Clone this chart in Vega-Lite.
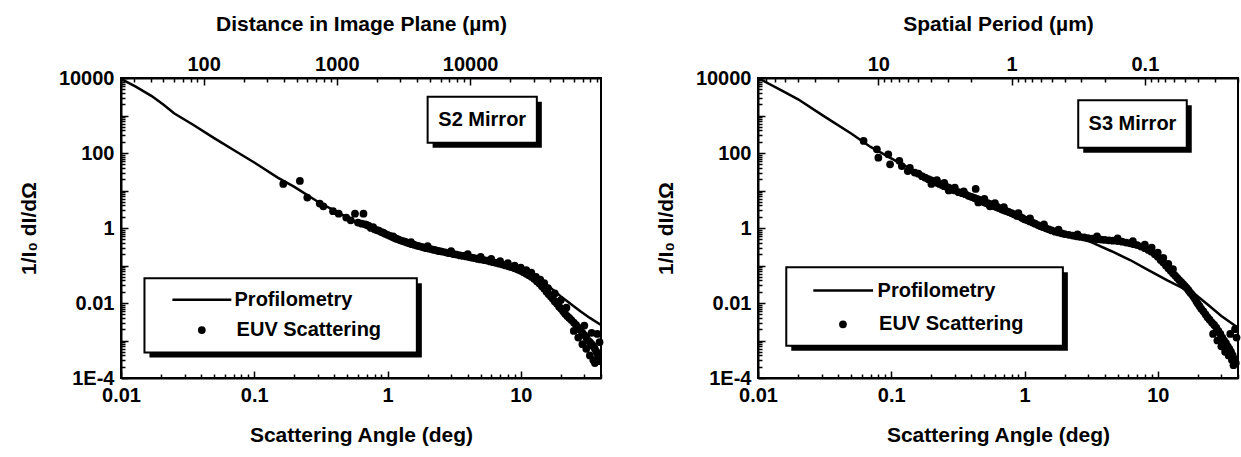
{
  "$schema": "https://vega.github.io/schema/vega-lite/v6.json",
  "autosize": {"type": "pad"},
  "padding": {"left": 17, "top": 12, "right": 0, "bottom": 0},
  "background": "white",
  "spacing": 157,
  "bounds": "flush",
  "config": {
    "font": "Liberation Sans",
    "view": {"stroke": "black", "strokeWidth": 2},
    "axis": {
      "labelFont": "Liberation Sans", "labelFontWeight": "bold", "labelFontSize": 20, "labelColor": "black",
      "titleFont": "Liberation Sans", "titleFontWeight": "bold", "titleFontSize": 21, "titleColor": "black",
      "domainColor": "black", "domainWidth": 2, "tickColor": "black", "tickWidth": 1.5, "grid": false,
      "labelFlush": false, "labelOverlap": false, "labelBound": false
    }
  },
  "datasets": {
    "s2_prof": [
      {"a":0.01,"v":9500},{"a":0.013,"v":5800},{"a":0.017,"v":3300},{"a":0.021,"v":1900},{"a":0.025,"v":1150},
      {"a":0.035,"v":560},{"a":0.05,"v":250},{"a":0.07,"v":120},{"a":0.1,"v":56},{"a":0.15,"v":22},{"a":0.2,"v":12.5},
      {"a":0.3,"v":5},{"a":0.4,"v":2.9},{"a":0.55,"v":1.6},{"a":0.8,"v":0.85},{"a":1.1,"v":0.5},{"a":1.5,"v":0.36},
      {"a":2.2,"v":0.26},{"a":3,"v":0.21},{"a":4.3,"v":0.165},{"a":6,"v":0.13},{"a":8.5,"v":0.095},{"a":10,"v":0.08},
      {"a":12,"v":0.06},{"a":14,"v":0.04},{"a":16.8,"v":0.025},{"a":20,"v":0.015},{"a":23.6,"v":0.0095},{"a":28,"v":0.006},
      {"a":33,"v":0.004},{"a":40,"v":0.0026}
    ],
    "s2_euv": [
      {"a":0.165,"v":15},{"a":0.22,"v":18},{"a":0.25,"v":6.5},{"a":0.31,"v":4.5},{"a":0.33,"v":3.8},{"a":0.39,"v":2.8},
      {"a":0.43,"v":2.4},{"a":0.49,"v":1.9},{"a":0.53,"v":1.6},{"a":0.57,"v":2.4},{"a":0.6,"v":1.4},{"a":0.64,"v":1.3},
      {"a":0.66,"v":2.4},{"a":0.68,"v":1.25},{"a":0.7,"v":1.2},
      {"a":0.72,"v":1.15},{"a":0.75,"v":1.0},{"a":0.78,"v":1.05},{"a":0.8,"v":0.92},{"a":0.83,"v":0.88},{"a":0.86,"v":0.85},
      {"a":0.9,"v":0.78},{"a":0.93,"v":0.75},{"a":0.96,"v":0.7},{"a":1.0,"v":0.66},{"a":1.04,"v":0.62},{"a":1.08,"v":0.58},
      {"a":1.12,"v":0.55},{"a":1.16,"v":0.52},{"a":1.2,"v":0.5},{"a":1.25,"v":0.47},{"a":1.3,"v":0.45},{"a":1.35,"v":0.43},
      {"a":1.4,"v":0.41},{"a":1.46,"v":0.39},{"a":1.52,"v":0.37},{"a":1.58,"v":0.36},{"a":1.65,"v":0.34},{"a":1.72,"v":0.33},
      {"a":1.8,"v":0.315},{"a":1.88,"v":0.3},{"a":1.96,"v":0.29},{"a":2.05,"v":0.28},{"a":2.15,"v":0.27},{"a":2.25,"v":0.26},
      {"a":2.35,"v":0.25},{"a":2.45,"v":0.24},{"a":2.55,"v":0.235},{"a":2.7,"v":0.225},{"a":2.85,"v":0.215},{"a":3.0,"v":0.21},
      {"a":3.15,"v":0.2},{"a":3.3,"v":0.195},{"a":3.5,"v":0.185},{"a":3.7,"v":0.18},{"a":3.9,"v":0.175},{"a":4.1,"v":0.168},
      {"a":4.3,"v":0.162},{"a":4.5,"v":0.158},{"a":4.75,"v":0.15},{"a":5.0,"v":0.145},{"a":5.3,"v":0.14},{"a":5.6,"v":0.135},
      {"a":5.9,"v":0.128},{"a":6.2,"v":0.123},{"a":6.5,"v":0.118},{"a":6.9,"v":0.112},{"a":7.3,"v":0.106},{"a":7.7,"v":0.1},
      {"a":8.1,"v":0.095},{"a":8.5,"v":0.09},{"a":9.0,"v":0.084},{"a":9.5,"v":0.078},{"a":10.0,"v":0.072},{"a":10.5,"v":0.066},
      {"a":11.0,"v":0.06},{"a":11.5,"v":0.055},{"a":12.0,"v":0.05},{"a":12.6,"v":0.044},{"a":13.2,"v":0.038},{"a":13.8,"v":0.033},
      {"a":14.4,"v":0.028},{"a":15.0,"v":0.024},{"a":15.6,"v":0.02},{"a":16.2,"v":0.017},{"a":16.8,"v":0.015},{"a":17.4,"v":0.013},
      {"a":18.0,"v":0.011},{"a":18.7,"v":0.0095},{"a":19.4,"v":0.008},{"a":20.1,"v":0.007},{"a":20.8,"v":0.006},{"a":21.5,"v":0.0052},
      {"a":22.3,"v":0.0045},{"a":23.1,"v":0.004},{"a":24,"v":0.0035},{"a":25,"v":0.003},{"a":26,"v":0.0026},{"a":27,"v":0.0022},
      {"a":28,"v":0.0019},{"a":29,"v":0.0016},{"a":30,"v":0.0014},{"a":31,"v":0.0012},{"a":32,"v":0.001},{"a":33,"v":0.0009},
      {"a":34,"v":0.0008},{"a":35,"v":0.0007},{"a":36,"v":0.0006},{"a":37,"v":0.0005},{"a":38,"v":0.0004},
      {"a":25,"v":0.0018},{"a":27,"v":0.0012},{"a":29,"v":0.0008},{"a":31,"v":0.0006},{"a":33,"v":0.0004},{"a":35,"v":0.0003},
      {"a":36,"v":0.00025},{"a":38,"v":0.00028},{"a":39,"v":0.0009},{"a":37.5,"v":0.0015},{"a":34,"v":0.0016},{"a":30,"v":0.0025},
      {"a":20,"v":0.012},{"a":22,"v":0.0075},{"a":18,"v":0.018},{"a":16,"v":0.025},
      {"a":1.1,"v":0.6},{"a":1.5,"v":0.42},{"a":2,"v":0.33},{"a":3,"v":0.24},{"a":4,"v":0.2},{"a":5,"v":0.17},{"a":6,"v":0.15},
      {"a":7,"v":0.13},{"a":8,"v":0.115},{"a":9,"v":0.1},{"a":10,"v":0.088},{"a":11,"v":0.075},{"a":12,"v":0.065},{"a":13,"v":0.05},
      {"a":14,"v":0.042},{"a":15,"v":0.034}
    ],
    "s3_prof": [
      {"a":0.01,"v":10000},{"a":0.015,"v":4700},{"a":0.02,"v":2700},{"a":0.0314,"v":950},{"a":0.05,"v":330},{"a":0.07,"v":145},
      {"a":0.1,"v":72},{"a":0.15,"v":33},{"a":0.2,"v":19},{"a":0.3,"v":9},{"a":0.5,"v":4},{"a":0.8,"v":2.1},{"a":1.2,"v":1.2},
      {"a":2,"v":0.7},{"a":3.16,"v":0.42},{"a":4.5,"v":0.24},{"a":6.2,"v":0.14},{"a":8.5,"v":0.075},{"a":11.8,"v":0.04},
      {"a":15,"v":0.026},{"a":19.5,"v":0.016},{"a":23.8,"v":0.009},{"a":30,"v":0.0045},{"a":40,"v":0.0022}
    ],
    "s3_euv": [
      {"a":0.062,"v":210},{"a":0.078,"v":125},{"a":0.08,"v":75},{"a":0.095,"v":92},{"a":0.098,"v":50},{"a":0.115,"v":62},
      {"a":0.12,"v":45},{"a":0.133,"v":33},{"a":0.138,"v":40},{"a":0.15,"v":30},{"a":0.16,"v":28},
      {"a":0.17,"v":24},{"a":0.18,"v":22},{"a":0.19,"v":20},{"a":0.2,"v":18.5},{"a":0.21,"v":17},{"a":0.22,"v":16},{"a":0.23,"v":15},
      {"a":0.24,"v":14},{"a":0.25,"v":13},{"a":0.26,"v":12.5},{"a":0.27,"v":12},{"a":0.28,"v":11},{"a":0.29,"v":10.5},{"a":0.3,"v":10},
      {"a":0.32,"v":9},{"a":0.34,"v":8.5},{"a":0.36,"v":8},{"a":0.38,"v":7.2},{"a":0.4,"v":6.8},{"a":0.42,"v":6.4},{"a":0.43,"v":11},
      {"a":0.44,"v":6},{"a":0.46,"v":5.6},{"a":0.48,"v":5.3},{"a":0.5,"v":5},{"a":0.53,"v":4.6},{"a":0.56,"v":4.3},{"a":0.59,"v":4},
      {"a":0.62,"v":3.7},{"a":0.65,"v":3.4},{"a":0.68,"v":3.1},{"a":0.72,"v":2.9},{"a":0.76,"v":2.7},{"a":0.8,"v":2.5},{"a":0.84,"v":2.3},
      {"a":0.88,"v":2.1},{"a":0.92,"v":2.0},{"a":0.96,"v":1.85},{"a":1.0,"v":1.7},{"a":1.05,"v":1.6},{"a":1.1,"v":1.5},{"a":1.15,"v":1.4},
      {"a":1.2,"v":1.3},{"a":1.26,"v":1.2},{"a":1.32,"v":1.12},{"a":1.38,"v":1.05},{"a":1.45,"v":0.98},{"a":1.52,"v":0.92},{"a":1.6,"v":0.86},
      {"a":1.7,"v":0.8},{"a":1.8,"v":0.76},{"a":1.9,"v":0.72},{"a":2.0,"v":0.69},{"a":2.15,"v":0.66},{"a":2.3,"v":0.63},{"a":2.45,"v":0.6},
      {"a":2.6,"v":0.58},{"a":2.8,"v":0.56},{"a":3.0,"v":0.54},{"a":3.25,"v":0.52},{"a":3.5,"v":0.5},{"a":3.75,"v":0.49},{"a":4.0,"v":0.48},
      {"a":4.3,"v":0.47},{"a":4.6,"v":0.46},{"a":5.0,"v":0.45},{"a":5.4,"v":0.43},{"a":5.8,"v":0.41},{"a":6.2,"v":0.39},{"a":6.6,"v":0.37},
      {"a":7.0,"v":0.35},{"a":7.5,"v":0.32},{"a":8.0,"v":0.29},{"a":8.5,"v":0.26},{"a":9.0,"v":0.23},{"a":9.5,"v":0.2},{"a":10,"v":0.17},
      {"a":10.5,"v":0.14},{"a":11,"v":0.12},{"a":11.5,"v":0.1},{"a":12,"v":0.085},{"a":12.5,"v":0.072},{"a":13,"v":0.062},{"a":13.5,"v":0.054},
      {"a":14,"v":0.047},{"a":14.5,"v":0.041},{"a":15,"v":0.036},{"a":15.5,"v":0.032},{"a":16,"v":0.028},{"a":16.5,"v":0.025},{"a":17,"v":0.022},
      {"a":17.5,"v":0.019},{"a":18,"v":0.017},{"a":18.5,"v":0.015},{"a":19,"v":0.013},{"a":19.5,"v":0.011},{"a":20,"v":0.0095},{"a":20.6,"v":0.0082},
      {"a":21.2,"v":0.007},{"a":22,"v":0.006},{"a":22.8,"v":0.005},{"a":23.6,"v":0.0042},{"a":24.5,"v":0.0036},{"a":25.5,"v":0.003},
      {"a":26.5,"v":0.0026},{"a":27.5,"v":0.0022},{"a":28.5,"v":0.0018},{"a":29.5,"v":0.0015},{"a":30.5,"v":0.0012},{"a":31.5,"v":0.001},
      {"a":32.5,"v":0.00085},{"a":33.5,"v":0.0007},{"a":34.5,"v":0.0006},{"a":35.5,"v":0.0005},{"a":36.5,"v":0.0004},{"a":37.5,"v":0.00032},
      {"a":38.5,"v":0.00025},
      {"a":26,"v":0.0015},{"a":28,"v":0.001},{"a":30,"v":0.0007},{"a":32,"v":0.0005},{"a":34,"v":0.0004},{"a":36,"v":0.0003},{"a":37,"v":0.00022},
      {"a":39,"v":0.0012},{"a":38,"v":0.002},{"a":35,"v":0.0015},
      {"a":0.25,"v":16},{"a":0.3,"v":12},{"a":0.35,"v":9.5},{"a":0.5,"v":6},{"a":0.6,"v":4.6},{"a":0.7,"v":3.6},{"a":0.9,"v":2.5},{"a":1.1,"v":1.8},
      {"a":1.4,"v":1.25},{"a":1.8,"v":0.9},{"a":2.5,"v":0.68},{"a":3.5,"v":0.6},{"a":5,"v":0.53},{"a":6.5,"v":0.45},{"a":8,"v":0.36},{"a":9,"v":0.3},
      {"a":10,"v":0.22},{"a":11,"v":0.16},{"a":12,"v":0.11},{"a":13,"v":0.08},{"a":0.2,"v":15},{"a":0.22,"v":19},{"a":0.27,"v":10},{"a":0.45,"v":4.8},
      {"a":0.55,"v":3.8}
    ],
    "boxes": [
      {"panel":"S2","x1":0.015,"x2":1.66,"y1":0.046,"y2":0.00048},
      {"panel":"S2","x1":2.0,"x2":13.2,"y1":3162,"y2":187},
      {"panel":"S3","x1":0.0163,"x2":1.94,"y1":0.09,"y2":0.00072},
      {"panel":"S3","x1":2.53,"x2":16.5,"y1":2570,"y2":137}
    ],
    "keylines": [
      {"panel":"S2","a1":0.0243,"a2":0.0673,"v":0.0123},
      {"panel":"S3","a1":0.026,"a2":0.073,"v":0.0215}
    ],
    "keydots": [
      {"panel":"S2","a":0.0404,"v":0.0019},
      {"panel":"S3","a":0.0434,"v":0.0027}
    ],
    "keytexts": [
      {"panel":"S2","a":0.0711,"v":0.0123,"t":"Profilometry"},
      {"panel":"S2","a":0.0737,"v":0.0019,"t":"EUV Scattering"},
      {"panel":"S3","a":0.079,"v":0.0215,"t":"Profilometry"},
      {"panel":"S3","a":0.081,"v":0.0027,"t":"EUV Scattering"}
    ],
    "mirrors": [
      {"panel":"S2","a":5.14,"v":769,"t":"S2 Mirror"},
      {"panel":"S3","a":6.46,"v":593,"t":"S3 Mirror"}
    ]
  },
  "hconcat": [
    {
      "width": 480, "height": 300,
      "resolve": {"scale": {"x": "independent"}, "axis": {"x": "independent"}},
      "layer": [
        {
          "data": {"values": [{"d": 100}]},
          "mark": {"type": "point", "opacity": 0},
          "encoding": {
            "x": {"field": "d", "type": "quantitative",
              "scale": {"type": "log", "domain": [24, 96000], "nice": false},
              "axis": {"orient": "top", "title": "Distance in Image Plane (µm)", "titlePadding": 17, "labelPadding": 11,
                "values": [30,40,50,60,70,80,90,100,200,300,400,500,600,700,800,900,1000,2000,3000,4000,5000,6000,7000,8000,9000,10000,20000,30000,40000,50000,60000,70000,80000,90000],
                "labelExpr": "datum.value == 100 ? '100' : datum.value == 1000 ? '1000' : datum.value == 10000 ? '10000' : ''",
                "tickSize": {"condition": {"test": "indexof([100,1000,10000], datum.value) >= 0", "value": -7}, "value": -4}}}
          }
        },
        {
          "encoding": {
            "x": {"field": "a", "type": "quantitative", "scale": {"type": "log", "domain": [0.01, 40], "nice": false},
              "axis": {"orient": "bottom", "title": "Scattering Angle (deg)", "titlePadding": 16, "labelPadding": 14,
                "values": [0.01,0.02,0.03,0.04,0.05,0.06,0.07,0.08,0.09,0.1,0.2,0.3,0.4,0.5,0.6,0.7,0.8,0.9,1,2,3,4,5,6,7,8,9,10,20,30,40],
                "labelExpr": "datum.value == 0.01 ? '0.01' : datum.value == 0.1 ? '0.1' : datum.value == 1 ? '1' : datum.value == 10 ? '10' : ''",
                "tickSize": {"condition": {"test": "indexof([0.01,0.1,1,10], datum.value) >= 0", "value": -7}, "value": -4}}},
            "y": {"field": "v", "type": "quantitative", "scale": {"type": "log", "domain": [0.0001, 10000], "nice": false},
              "axis": {"orient": "left", "title": "1/I₀ dI/dΩ", "titlePadding": 19, "labelPadding": 14,
                "values": [0.0001,0.0002,0.0003,0.0004,0.0005,0.0006,0.0007,0.0008,0.0009,0.001,0.002,0.003,0.004,0.005,0.006,0.007,0.008,0.009,0.01,0.02,0.03,0.04,0.05,0.06,0.07,0.08,0.09,0.1,0.2,0.3,0.4,0.5,0.6,0.7,0.8,0.9,1,2,3,4,5,6,7,8,9,10,20,30,40,50,60,70,80,90,100,200,300,400,500,600,700,800,900,1000,2000,3000,4000,5000,6000,7000,8000,9000,10000],
                "labelExpr": "datum.value == 10000 ? '10000' : datum.value == 100 ? '100' : datum.value == 1 ? '1' : datum.value == 0.01 ? '0.01' : datum.value == 0.0001 ? '1E-4' : ''",
                "tickSize": {"condition": {"test": "indexof([0.0001,0.001,0.01,0.1,1,10,100,1000,10000], datum.value) >= 0", "value": -7}, "value": -4}}}
          },
          "layer": [
            {"data": {"name": "s2_prof"}, "mark": {"type": "line", "color": "black", "strokeWidth": 2.5}},
            {"data": {"name": "s2_euv"}, "mark": {"type": "circle", "color": "black", "size": 60, "opacity": 1}},
            {
              "data": {"name": "boxes"},
              "transform": [{"filter": "datum.panel == 'S2'"}],
              "mark": {"type": "rect", "fill": "black", "xOffset": 5, "x2Offset": 5, "yOffset": 5, "y2Offset": 5},
              "encoding": {"x": {"field": "x1", "type": "quantitative"}, "x2": {"field": "x2"}, "y": {"field": "y1", "type": "quantitative"}, "y2": {"field": "y2"}}
            },
            {
              "data": {"name": "boxes"},
              "transform": [{"filter": "datum.panel == 'S2'"}],
              "mark": {"type": "rect", "fill": "white", "stroke": "black", "strokeWidth": 2},
              "encoding": {"x": {"field": "x1", "type": "quantitative"}, "x2": {"field": "x2"}, "y": {"field": "y1", "type": "quantitative"}, "y2": {"field": "y2"}}
            },
            {
              "data": {"name": "keylines"},
              "transform": [{"filter": "datum.panel == 'S2'"}],
              "mark": {"type": "rule", "color": "black", "strokeWidth": 2.5},
              "encoding": {"x": {"field": "a1", "type": "quantitative"}, "x2": {"field": "a2"}}
            },
            {
              "data": {"name": "keydots"},
              "transform": [{"filter": "datum.panel == 'S2'"}],
              "mark": {"type": "circle", "color": "black", "size": 60, "opacity": 1}
            },
            {
              "data": {"name": "keytexts"},
              "transform": [{"filter": "datum.panel == 'S2'"}],
              "mark": {"type": "text", "align": "left", "baseline": "middle", "font": "Liberation Sans", "fontWeight": "bold", "fontSize": 20, "color": "black"},
              "encoding": {"text": {"field": "t"}}
            },
            {
              "data": {"name": "mirrors"},
              "transform": [{"filter": "datum.panel == 'S2'"}],
              "mark": {"type": "text", "align": "center", "baseline": "middle", "font": "Liberation Sans", "fontWeight": "bold", "fontSize": 20, "color": "black"},
              "encoding": {"text": {"field": "t"}}
            }
          ]
        }
      ]
    },
    {
      "width": 480, "height": 300,
      "resolve": {"scale": {"x": "independent"}, "axis": {"x": "independent"}},
      "layer": [
        {
          "data": {"values": [{"p": 1}]},
          "mark": {"type": "point", "opacity": 0},
          "encoding": {
            "x": {"field": "p", "type": "quantitative",
              "scale": {"type": "log", "domain": [0.02, 80], "reverse": true, "nice": false},
              "axis": {"orient": "top", "title": "Spatial Period (µm)", "titlePadding": 17, "labelPadding": 11,
                "values": [0.02,0.03,0.04,0.05,0.06,0.07,0.08,0.09,0.1,0.2,0.3,0.4,0.5,0.6,0.7,0.8,0.9,1,2,3,4,5,6,7,8,9,10,20,30,40,50,60,70,80],
                "labelExpr": "datum.value == 10 ? '10' : datum.value == 1 ? '1' : datum.value == 0.1 ? '0.1' : ''",
                "tickSize": {"condition": {"test": "indexof([0.1,1,10], datum.value) >= 0", "value": -7}, "value": -4}}}
          }
        },
        {
          "encoding": {
            "x": {"field": "a", "type": "quantitative", "scale": {"type": "log", "domain": [0.01, 40], "nice": false},
              "axis": {"orient": "bottom", "title": "Scattering Angle (deg)", "titlePadding": 16, "labelPadding": 14,
                "values": [0.01,0.02,0.03,0.04,0.05,0.06,0.07,0.08,0.09,0.1,0.2,0.3,0.4,0.5,0.6,0.7,0.8,0.9,1,2,3,4,5,6,7,8,9,10,20,30,40],
                "labelExpr": "datum.value == 0.01 ? '0.01' : datum.value == 0.1 ? '0.1' : datum.value == 1 ? '1' : datum.value == 10 ? '10' : ''",
                "tickSize": {"condition": {"test": "indexof([0.01,0.1,1,10], datum.value) >= 0", "value": -7}, "value": -4}}},
            "y": {"field": "v", "type": "quantitative", "scale": {"type": "log", "domain": [0.0001, 10000], "nice": false},
              "axis": {"orient": "left", "title": "1/I₀ dI/dΩ", "titlePadding": 19, "labelPadding": 14,
                "values": [0.0001,0.0002,0.0003,0.0004,0.0005,0.0006,0.0007,0.0008,0.0009,0.001,0.002,0.003,0.004,0.005,0.006,0.007,0.008,0.009,0.01,0.02,0.03,0.04,0.05,0.06,0.07,0.08,0.09,0.1,0.2,0.3,0.4,0.5,0.6,0.7,0.8,0.9,1,2,3,4,5,6,7,8,9,10,20,30,40,50,60,70,80,90,100,200,300,400,500,600,700,800,900,1000,2000,3000,4000,5000,6000,7000,8000,9000,10000],
                "labelExpr": "datum.value == 10000 ? '10000' : datum.value == 100 ? '100' : datum.value == 1 ? '1' : datum.value == 0.01 ? '0.01' : datum.value == 0.0001 ? '1E-4' : ''",
                "tickSize": {"condition": {"test": "indexof([0.0001,0.001,0.01,0.1,1,10,100,1000,10000], datum.value) >= 0", "value": -7}, "value": -4}}}
          },
          "layer": [
            {"data": {"name": "s3_prof"}, "mark": {"type": "line", "color": "black", "strokeWidth": 2.5}},
            {"data": {"name": "s3_euv"}, "mark": {"type": "circle", "color": "black", "size": 60, "opacity": 1}},
            {
              "data": {"name": "boxes"},
              "transform": [{"filter": "datum.panel == 'S3'"}],
              "mark": {"type": "rect", "fill": "black", "xOffset": 5, "x2Offset": 5, "yOffset": 5, "y2Offset": 5},
              "encoding": {"x": {"field": "x1", "type": "quantitative"}, "x2": {"field": "x2"}, "y": {"field": "y1", "type": "quantitative"}, "y2": {"field": "y2"}}
            },
            {
              "data": {"name": "boxes"},
              "transform": [{"filter": "datum.panel == 'S3'"}],
              "mark": {"type": "rect", "fill": "white", "stroke": "black", "strokeWidth": 2},
              "encoding": {"x": {"field": "x1", "type": "quantitative"}, "x2": {"field": "x2"}, "y": {"field": "y1", "type": "quantitative"}, "y2": {"field": "y2"}}
            },
            {
              "data": {"name": "keylines"},
              "transform": [{"filter": "datum.panel == 'S3'"}],
              "mark": {"type": "rule", "color": "black", "strokeWidth": 2.5},
              "encoding": {"x": {"field": "a1", "type": "quantitative"}, "x2": {"field": "a2"}}
            },
            {
              "data": {"name": "keydots"},
              "transform": [{"filter": "datum.panel == 'S3'"}],
              "mark": {"type": "circle", "color": "black", "size": 60, "opacity": 1}
            },
            {
              "data": {"name": "keytexts"},
              "transform": [{"filter": "datum.panel == 'S3'"}],
              "mark": {"type": "text", "align": "left", "baseline": "middle", "font": "Liberation Sans", "fontWeight": "bold", "fontSize": 20, "color": "black"},
              "encoding": {"text": {"field": "t"}}
            },
            {
              "data": {"name": "mirrors"},
              "transform": [{"filter": "datum.panel == 'S3'"}],
              "mark": {"type": "text", "align": "center", "baseline": "middle", "font": "Liberation Sans", "fontWeight": "bold", "fontSize": 20, "color": "black"},
              "encoding": {"text": {"field": "t"}}
            }
          ]
        }
      ]
    }
  ]
}
